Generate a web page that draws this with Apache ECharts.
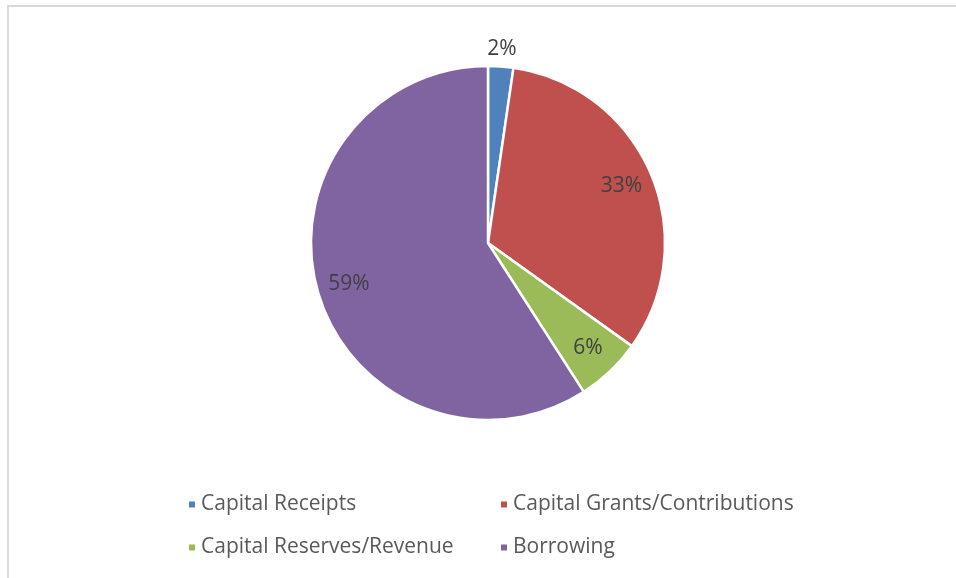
<!DOCTYPE html>
<html>
<head>
<meta charset="utf-8">
<script src="https://cdn.jsdelivr.net/npm/echarts@6/dist/echarts.min.js"></script>
<style>
  html, body { margin: 0; padding: 0; background: #fff; }
  #chart { width: 956px; height: 578px; }
</style>
</head>
<body>
<div id="chart"></div>
<script>
// pie of capital funding sources
var categories = ["Capital Receipts", "Capital Grants/Contributions", "Capital Reserves/Revenue", "Borrowing"];
var shares = [2.3, 32.6, 6.0, 59.1];
var colors = ["#4f81bd", "#c0504d", "#9bbb59", "#8064a2"];

var FONT = "'Open Sans', Lato, sans-serif";
var center = [488, 243];

var pieData = categories.map(function (name, i) {
  return { name: name, value: shares[i], itemStyle: { color: colors[i] } };
});

function pctText(p) {
  return Math.round(p.value) + "%";
}

var legendText = { fontFamily: FONT, fontSize: 21, color: "#595959" };

var chart = echarts.init(document.getElementById("chart"), null, { renderer: "canvas" });
chart.setOption({
  backgroundColor: "#fff",
  animation: false,
  color: colors,
  graphic: [{
    type: "polyline",
    shape: { points: [[8, 578], [8, 6], [956, 6]] },
    style: { stroke: "#d9d9d9", lineWidth: 2, fill: null }
  }],
  legend: [{
    data: [categories[0], categories[2]],
    orient: "vertical",
    left: 187, top: 494, padding: 0,
    itemWidth: 8, itemHeight: 8, itemGap: 22,
    icon: "rect",
    textStyle: legendText
  }, {
    data: [categories[1], categories[3]],
    orient: "vertical",
    left: 499, top: 494, padding: 0,
    itemWidth: 8, itemHeight: 8, itemGap: 22,
    icon: "rect",
    textStyle: legendText
  }],
  series: [{
    // the slices
    type: "pie",
    center: center,
    radius: [0, 177],
    startAngle: 90,
    clockwise: true,
    silent: true,
    itemStyle: { borderColor: "#fff", borderWidth: 2.5 },
    label: { show: false },
    labelLine: { show: false },
    data: pieData
  }, {
    // labels placed inside the slices near the rim
    type: "pie",
    center: center,
    radius: [107, 177],
    startAngle: 90,
    clockwise: true,
    silent: true,
    legendHoverLink: false,
    itemStyle: { color: "transparent", borderWidth: 0 },
    label: {
      show: true, position: "inside",
      fontFamily: FONT, fontSize: 21, color: "#404040",
      formatter: function (p) { return p.dataIndex === 0 ? "" : pctText(p); }
    },
    labelLine: { show: false },
    data: pieData.map(function (d) { return { name: d.name + " ", value: d.value }; })
  }, {
    // small slice label sits outside the pie
    type: "pie",
    center: center,
    radius: [181, 201],
    startAngle: 90,
    clockwise: true,
    silent: true,
    legendHoverLink: false,
    itemStyle: { color: "transparent", borderWidth: 0 },
    label: {
      show: true, position: "inside",
      fontFamily: FONT, fontSize: 21, color: "#404040",
      formatter: function (p) { return p.dataIndex === 0 ? pctText(p) : ""; }
    },
    labelLine: { show: false },
    data: pieData.map(function (d) { return { name: d.name + "  ", value: d.value }; })
  }]
});
</script>
</body>
</html>
